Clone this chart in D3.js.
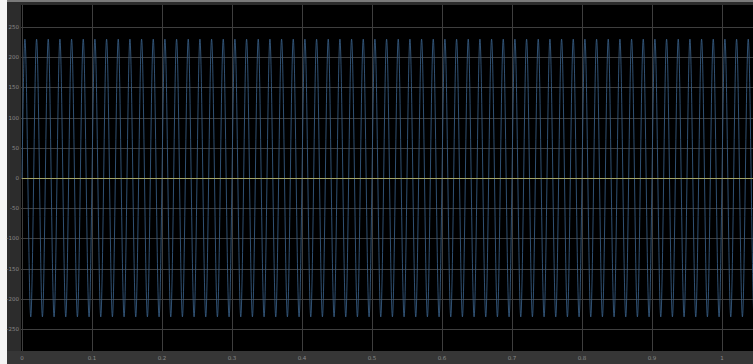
<!DOCTYPE html>
<html>
<head>
<meta charset="utf-8">
<script src="https://cdn.jsdelivr.net/npm/d3@7"></script>
<style>
html,body{margin:0;padding:0;background:#2c2c2c;}
svg{display:block;}
text{font-family:"DejaVu Sans",sans-serif;}
</style>
</head>
<body>
<script>
// Tick labels
const xTicks = [0,0.1,0.2,0.3,0.4,0.5,0.6,0.7,0.8,0.9,1];
const xTickLabels = ["0","0.1","0.2","0.3","0.4","0.5","0.6","0.7","0.8","0.9","1"];
const yTicks = [250,200,150,100,50,0,-50,-100,-150,-200,-250];
const yTickLabels = ["250","200","150","100","50","0","-50","-100","-150","-200","-250"];

// Signal 1 (blue): start point and extrema (time in ms, value)
const signalStartMs = [0];
const signalStartVal = [0];
const peakTimesMs = [
4.17,12.5,20.83,29.17,37.5,45.83,54.17,62.5,70.83,79.17,87.5,95.83,
104.17,112.5,120.83,129.17,137.5,145.83,154.17,162.5,170.83,179.17,187.5,195.83,
204.17,212.5,220.83,229.17,237.5,245.83,254.17,262.5,270.83,279.17,287.5,295.83,
304.17,312.5,320.83,329.17,337.5,345.83,354.17,362.5,370.83,379.17,387.5,395.83,
404.17,412.5,420.83,429.17,437.5,445.83,454.17,462.5,470.83,479.17,487.5,495.83,
504.17,512.5,520.83,529.17,537.5,545.83,554.17,562.5,570.83,579.17,587.5,595.83,
604.17,612.5,620.83,629.17,637.5,645.83,654.17,662.5,670.83,679.17,687.5,695.83,
704.17,712.5,720.83,729.17,737.5,745.83,754.17,762.5,770.83,779.17,787.5,795.83,
804.17,812.5,820.83,829.17,837.5,845.83,854.17,862.5,870.83,879.17,887.5,895.83,
904.17,912.5,920.83,929.17,937.5,945.83,954.17,962.5,970.83,979.17,987.5,995.83,
1004.17,1012.5,1020.83,1029.17,1037.5,1045.83,1054.17
];
const peakValues = [
230,-230,230,-230,230,-230,230,-230,230,-230,230,-230,
230,-230,230,-230,230,-230,230,-230,230,-230,230,-230,
230,-230,230,-230,230,-230,230,-230,230,-230,230,-230,
230,-230,230,-230,230,-230,230,-230,230,-230,230,-230,
230,-230,230,-230,230,-230,230,-230,230,-230,230,-230,
230,-230,230,-230,230,-230,230,-230,230,-230,230,-230,
230,-230,230,-230,230,-230,230,-230,230,-230,230,-230,
230,-230,230,-230,230,-230,230,-230,230,-230,230,-230,
230,-230,230,-230,230,-230,230,-230,230,-230,230,-230,
230,-230,230,-230,230,-230,230,-230,230,-230,230,-230,
230,-230,230,-230,230,-230,230
];

// Signal 2 (yellow): constant zero
const zeroTimes = [0, 1.06];
const zeroValues = [0, 0];

const W = 753, H = 364;
const plot = {left:21, top:5, right:753, bottom:351};

const svg = d3.select("body").append("svg").attr("width",W).attr("height",H);

// surround
svg.append("rect").attr("x",0).attr("y",0).attr("width",W).attr("height",H).attr("fill","#2c2c2c");
svg.append("rect").attr("x",0).attr("y",351).attr("width",W).attr("height",13).attr("fill","#363636");
svg.append("rect").attr("x",0).attr("y",0).attr("width",W).attr("height",2).attr("fill","#7a7a7a");
svg.append("rect").attr("x",0).attr("y",0).attr("width",7).attr("height",H).attr("fill","#f4f4f4");

const x = d3.scaleLinear().domain([0, 1]).range([22, 722]);
const y = d3.scaleLinear().domain([250, -250]).range([27, 329]);

svg.append("defs").append("clipPath").attr("id","clip")
  .append("rect").attr("x",plot.left).attr("y",plot.top)
  .attr("width",plot.right-plot.left).attr("height",plot.bottom-plot.top);

svg.append("rect").attr("x",plot.left).attr("y",plot.top)
  .attr("width",plot.right-plot.left).attr("height",plot.bottom-plot.top)
  .attr("fill","#000");

const g = svg.append("g").attr("clip-path","url(#clip)");

// grid
g.selectAll(".gx").data(xTicks).enter().append("line")
  .attr("x1",d=>Math.round(x(d))+0.5).attr("x2",d=>Math.round(x(d))+0.5)
  .attr("y1",plot.top).attr("y2",plot.bottom)
  .attr("stroke","#3e3e3e").attr("stroke-width",1);
g.selectAll(".gy").data(yTicks).enter().append("line")
  .attr("x1",plot.left).attr("x2",plot.right)
  .attr("y1",d=>Math.round(y(d))+0.5).attr("y2",d=>Math.round(y(d))+0.5)
  .attr("stroke","#3e3e3e").attr("stroke-width",1);

// signal 1
const sig = signalStartMs.map((t,i)=>({t:t/1000, v:signalStartVal[i]}))
  .concat(peakTimesMs.map((t,i)=>({t:t/1000, v:peakValues[i]})));
const line = d3.line().x(d=>x(d.t)).y(d=>y(d.v)).curve(d3.curveMonotoneX);
g.append("path").datum(sig).attr("d",line)
  .attr("fill","none").attr("stroke","#365a80").attr("stroke-width",0.9);

// signal 2
const zl = zeroTimes.map((t,i)=>({t:t, v:zeroValues[i]}));
g.append("path").datum(zl).attr("d",d3.line().x(d=>x(d.t)).y(d=>Math.round(y(d.v))+0.5))
  .attr("fill","none").attr("stroke","#a2a266").attr("stroke-width",1);

// tick labels
svg.selectAll(".yl").data(yTicks).enter().append("text")
  .attr("x",19).attr("y",d=>y(d)+2)
  .attr("text-anchor","end").attr("font-size","5.5px").attr("fill","#8a8a8a")
  .text((d,i)=>yTickLabels[i]);
svg.selectAll(".xl").data(xTicks).enter().append("text")
  .attr("x",d=>x(d)).attr("y",359.5)
  .attr("text-anchor","middle").attr("font-size","5.5px").attr("fill","#8a8a8a")
  .text((d,i)=>xTickLabels[i]);
</script>
</body>
</html>
